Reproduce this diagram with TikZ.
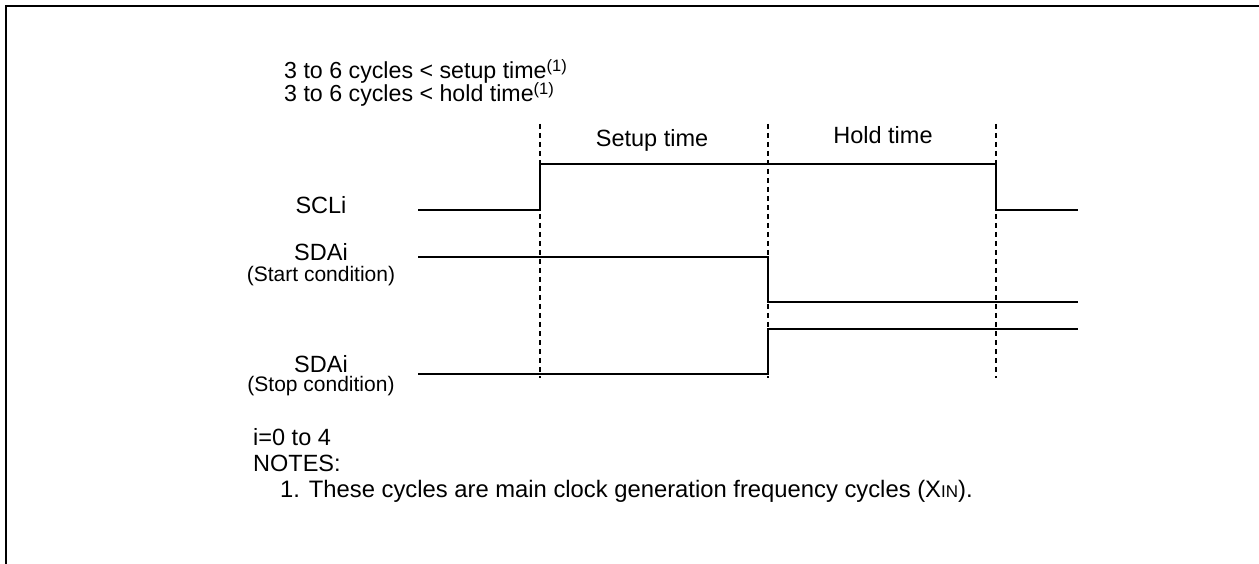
\documentclass[tikz,border=0pt]{standalone}
\usepackage{fontspec}
\setmainfont{Liberation Sans}
\usetikzlibrary{positioning, calc}
\newcommand{\lblfont}{\fontsize{23.5}{26}\selectfont}
\newcommand{\notefont}{\fontsize{23.8}{26}\selectfont}
\newcommand{\topfont}{\fontsize{23.2}{25}\selectfont}
\newcommand{\condfont}{\fontsize{21}{24}\selectfont}
\newcommand{\supfont}{\fontsize{16.5}{18}\selectfont}

\begin{document}
\begin{tikzpicture}[x=1pt, y=-1pt,
    wave/.style={line width=2.6pt, line join=miter},
    guide/.style={line width=1.3pt, dash pattern=on 5pt off 4pt},
    frameline/.style={line width=2.6pt},
    txt/.style={inner sep=0pt, anchor=base, font=\lblfont}]
  \useasboundingbox (0,0) rectangle (1259,564);
  % frame
  \draw[frameline] (6,564) -- (6,6) -- (1262,6);
  % heading
  \node[txt, anchor=base west, font=\topfont] (cond1) at (284,79)
    {3 to 6 cycles < setup time\raisebox{7pt}{\supfont(1)}};
  \node[txt, anchor=base west, font=\topfont] (cond2) at (284,102)
    {3 to 6 cycles < hold time\raisebox{7pt}{\supfont(1)}};
  % timing guides
  \foreach \gx/\gn in {540/ga, 768/gb, 996/gc} {
    \coordinate (\gn top) at (\gx,124);
    \coordinate (\gn bot) at (\gx,378);
    \draw[guide] (\gn top) -- (\gn bot);
  }
  \node[txt, font=\lblfont] (setup) at (652,147) {Setup time};
  \node[txt, font=\lblfont] (hold) at (883,144) {Hold time};
  % signal names
  \node[txt] (scl) at (321,214) {SCLi};
  \node[txt] (sdaA) at (321,261) {SDAi};
  \node[txt, font=\condfont] (startc) at (321,281) {(Start condition)};
  \node[txt] (sdaB) at (321,372) {SDAi};
  \node[txt, font=\condfont] (stopc) at (321,391) {(Stop condition)};
  % waveforms
  \draw[wave] (418,210) -- (540,210) -- (540,164) -- (996,164) -- (996,210) -- (1078,210);
  \draw[wave] (418,257) -- (768,257) -- (768,302) -- (1078,302);
  \draw[wave] (418,374) -- (768,374) -- (768,329) -- (1078,329);
  % notes
  \node[txt, anchor=base west] (range) at (253,445) {i=0 to 4};
  \node[txt, anchor=base west] (notes) at (253,471) {NOTES:};
  \node[txt, anchor=base west, font=\notefont] (note1) at (280,497)
    {1. These cycles are main clock generation frequency cycles (X{\fontsize{17}{20}\selectfont IN}).};
\end{tikzpicture}
\end{document}
